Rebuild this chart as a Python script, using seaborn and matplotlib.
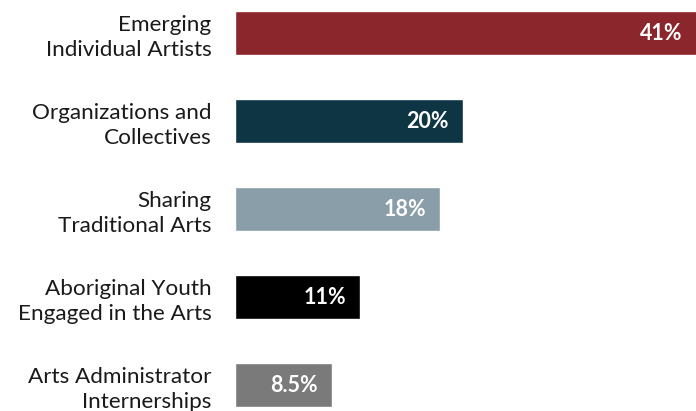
import matplotlib
matplotlib.use("Agg")
import matplotlib.pyplot as plt
import seaborn as sns
import pandas as pd

categories = [
    "Emerging\nIndividual Artists",
    "Organizations and\nCollectives",
    "Sharing\nTraditional Arts",
    "Aboriginal Youth\nEngaged in the Arts",
    "Arts Administrator\nInternerships",
]
shares = [41, 20, 18, 11, 8.5]
value_labels = ["41%", "20%", "18%", "11%", "8.5%"]
colors = ["#8a262c", "#0d3543", "#8a9ea9", "#000000", "#7a7a7a"]

df = pd.DataFrame({"category": categories, "share": shares})

sns.set_theme(style="white")
plt.rcParams["font.family"] = ["Lato", "DejaVu Sans"]

fig = plt.figure(figsize=(6.96, 4.11), dpi=100)
ax = fig.add_axes([235 / 696, 0, 1 - 235 / 696, 1])

sns.barplot(
    data=df, x="share", y="category", hue="category",
    palette=colors, orient="h", width=0.5, dodge=False,
    legend=False, ax=ax, saturation=1,
)

ax.set_xlim(0, 40.5)
ax.set_ylim(4.295, -0.375)
ax.set_xlabel("")
ax.set_ylabel("")
ax.set_xticks([])
ax.tick_params(axis="y", length=0, pad=17)
for lbl in ax.get_yticklabels():
    lbl.set_fontsize(16.2)
    lbl.set_color("#1a1a1a")
    lbl.set_linespacing(1.3)
    lbl.set_ha("right")
for s in ax.spines.values():
    s.set_visible(False)

for i, (v, t) in enumerate(zip(shares, value_labels)):
    ax.annotate(
        t, xy=(min(v, 40.5), i), xytext=(-10, 0), textcoords="offset points",
        ha="right", va="center", color="white", fontsize=15.5, fontweight="bold",
    )

fig.savefig("out.png", dpi=100)
